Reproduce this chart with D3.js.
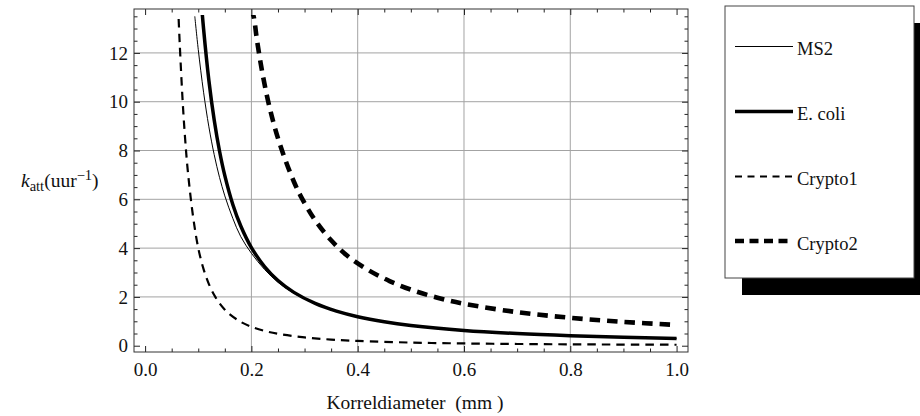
<!DOCTYPE html>
<html>
<head>
<meta charset="utf-8">
<script src="https://cdn.jsdelivr.net/npm/d3@7"></script>
<style>
  body { margin: 0; background: #fff; }
  svg { display: block; }
  text { font-family: "Liberation Serif", "Times New Roman", serif; fill: #111; }
</style>
</head>
<body>
<svg id="chart" width="920" height="416"></svg>
<script>
// ---- data ----
const ms2D   = [0.0935, 0.1, 0.11, 0.12, 0.13, 0.14, 0.15, 0.165, 0.18, 0.2, 0.225, 0.25, 0.28, 0.32, 0.36, 0.4, 0.45, 0.5, 0.6, 0.7, 0.8, 0.9, 1.0];
const ms2K   = [13.5, 12.14, 10.39, 8.97, 7.83, 6.90, 6.14, 5.22, 4.47, 3.79, 3.12, 2.60, 2.15, 1.715, 1.405, 1.18, 0.975, 0.823, 0.62, 0.492, 0.405, 0.343, 0.297];
const ecoliD = [0.105, 0.11, 0.12, 0.13, 0.14, 0.15, 0.165, 0.18, 0.2, 0.225, 0.25, 0.28, 0.32, 0.36, 0.4, 0.45, 0.5, 0.6, 0.7, 0.8, 0.9, 1.0];
const ecoliK = [14.29, 12.99, 10.87, 9.25, 7.98, 6.97, 5.79, 4.905, 4.02, 3.236, 2.674, 2.186, 1.733, 1.418, 1.19, 0.982, 0.83, 0.626, 0.497, 0.4095, 0.347, 0.30];
const crypto1D = [0.062, 0.065, 0.0707, 0.075, 0.08, 0.09, 0.1, 0.11, 0.12, 0.13, 0.14, 0.15, 0.16, 0.18, 0.2, 0.225, 0.25, 0.3, 0.35, 0.4, 0.5, 0.6, 0.7, 0.8, 0.9, 1.0];
const crypto1K = [13.98, 12.44, 10, 8.57, 7.24, 5.33, 4.0, 3.14, 2.526, 2.076, 1.738, 1.478, 1.274, 0.977, 0.775, 0.605, 0.4875, 0.3385, 0.2506, 0.1945, 0.1287, 0.0927, 0.0708, 0.0564, 0.0464, 0.0392];
const crypto2D = [0.2, 0.205, 0.21, 0.22, 0.2317, 0.245, 0.26, 0.28, 0.2946, 0.32, 0.35, 0.38, 0.42, 0.46, 0.5, 0.55, 0.6, 0.7, 0.8, 0.9, 1.0];
const crypto2K = [13.82, 13.41, 12.6, 11.26, 10, 8.87, 7.85, 6.72, 6.06, 5.14, 4.32, 3.695, 3.10, 2.65, 2.30, 1.968, 1.719, 1.375, 1.144, 0.976, 0.849];

const seriesNames = ["MS2", "E. coli", "Crypto1", "Crypto2"];
const xMajor = [0, 0.2, 0.4, 0.6, 0.8, 1.0];
const yMajor = [0, 2, 4, 6, 8, 10, 12];
const xGrid = [0.2, 0.4, 0.6, 0.8];
const yGrid = [2, 4, 6, 8, 10, 12];
const yClipTop = 13.55;

// ---- styles ----
const styles = [
  { w: 1.0, dash: null,   legDash: null },
  { w: 3.5, dash: null,   legDash: null },
  { w: 2.2, dash: "8.5,6",  legDash: "7,5.5" },
  { w: 4.6, dash: "10.5,7", legDash: "9,5.5" }
];
const seriesData = [
  ms2D.map((d, i) => [d, ms2K[i]]),
  ecoliD.map((d, i) => [d, ecoliK[i]]),
  crypto1D.map((d, i) => [d, crypto1K[i]]),
  crypto2D.map((d, i) => [d, crypto2K[i]])
];

const svg = d3.select("#chart");
const L = 134, R = 688, T = 9, B = 352;

const x = d3.scaleLinear().domain([-0.0209, 1.0215]).range([L, R]);
const y = d3.scaleLinear().domain([-0.258, 13.8]).range([B, T]);

// grid
svg.append("g").selectAll("line").data(xGrid).join("line")
  .attr("x1", d => x(d)).attr("x2", d => x(d)).attr("y1", T).attr("y2", B)
  .attr("stroke", "#a3a3a3").attr("stroke-width", 1);
svg.append("g").selectAll("line").data(yGrid).join("line")
  .attr("x1", L).attr("x2", R).attr("y1", d => y(d)).attr("y2", d => y(d))
  .attr("stroke", "#a3a3a3").attr("stroke-width", 1);

// axes (ticks inward)
const xMinor = d3.range(0, 21).map(i => i * 0.05).filter((v, i) => i % 4 !== 0);
const yMinor = d3.range(0, 28).map(i => i * 0.5).filter(v => v % 2 !== 0);
const fmtX = d3.format(".1f");

function styleAxis(g) {
  g.select(".domain").remove();
  g.selectAll("line").attr("stroke", "#222");
  g.selectAll("text").attr("font-size", 19).attr("fill", "#1a1a1a");
}
svg.append("g").attr("transform", `translate(0,${B})`)
  .call(d3.axisBottom(x).tickValues(xMajor).tickFormat(fmtX).tickSize(-6).tickPadding(11)).call(styleAxis);
svg.append("g").attr("transform", `translate(0,${B})`)
  .call(d3.axisBottom(x).tickValues(xMinor).tickFormat("").tickSize(-3.5)).call(styleAxis);
svg.append("g").attr("transform", `translate(0,${T})`)
  .call(d3.axisTop(x).tickValues(xMajor).tickFormat("").tickSize(-6)).call(styleAxis);
svg.append("g").attr("transform", `translate(0,${T})`)
  .call(d3.axisTop(x).tickValues(xMinor).tickFormat("").tickSize(-3.5)).call(styleAxis);
svg.append("g").attr("transform", `translate(${L},0)`)
  .call(d3.axisLeft(y).tickValues(yMajor).tickFormat(d3.format("d")).tickSize(-6).tickPadding(6)).call(styleAxis);
svg.append("g").attr("transform", `translate(${L},0)`)
  .call(d3.axisLeft(y).tickValues(yMinor).tickFormat("").tickSize(-3.5)).call(styleAxis);
svg.append("g").attr("transform", `translate(${R},0)`)
  .call(d3.axisRight(y).tickValues(yMajor).tickFormat("").tickSize(-6)).call(styleAxis);
svg.append("g").attr("transform", `translate(${R},0)`)
  .call(d3.axisRight(y).tickValues(yMinor).tickFormat("").tickSize(-3.5)).call(styleAxis);

// frame
svg.append("rect").attr("x", L).attr("y", T).attr("width", R - L).attr("height", B - T)
  .attr("fill", "none").attr("stroke", "#333").attr("stroke-width", 1);

// clip (curves stop at the plot range top)
svg.append("clipPath").attr("id", "plotclip").append("rect")
  .attr("x", L).attr("y", y(yClipTop)).attr("width", R - L).attr("height", B - y(yClipTop));

const line = d3.line().x(d => x(d[0])).y(d => y(d[1])).curve(d3.curveCatmullRom.alpha(0.5));
svg.append("g").attr("clip-path", "url(#plotclip)")
  .selectAll("path").data(seriesData).join("path")
  .attr("d", d => line(d))
  .attr("fill", "none").attr("stroke", "#000")
  .attr("stroke-width", (d, i) => styles[i].w)
  .attr("stroke-dasharray", (d, i) => styles[i].dash);

// axis labels
svg.append("text").attr("x", 415).attr("y", 409).attr("text-anchor", "middle")
  .attr("font-size", 19.5).style("white-space", "pre").text("Korreldiameter  (mm )");

const yl = svg.append("text").attr("x", 21).attr("y", 187).attr("font-size", 19.5);
yl.append("tspan").attr("font-style", "italic").text("k");
yl.append("tspan").attr("font-size", 14.5).attr("dy", 4).text("att");
yl.append("tspan").attr("dy", -4).text("(uur");
yl.append("tspan").attr("font-size", 14.5).attr("dy", -7).text("\u22121");
yl.append("tspan").attr("dy", 7).text(")");

// legend
const LX = 725, LY = 6, LW = 189, LH = 272;
svg.append("rect").attr("x", LX + 17).attr("y", LY + 17).attr("width", LW).attr("height", LH).attr("fill", "#000");
svg.append("rect").attr("x", LX).attr("y", LY).attr("width", LW).attr("height", LH)
  .attr("fill", "#fff").attr("stroke", "#444").attr("stroke-width", 1);
const legY = [46.5, 111.5, 176.5, 241];
const lg = svg.append("g").selectAll("g").data(seriesNames).join("g")
  .attr("transform", (d, i) => `translate(0,${legY[i]})`);
lg.append("line").attr("x1", 735).attr("x2", 793).attr("y1", 0).attr("y2", 0)
  .attr("stroke", "#000")
  .attr("stroke-width", (d, i) => styles[i].w)
  .attr("stroke-dasharray", (d, i) => styles[i].legDash);
lg.append("text").attr("x", 797).attr("y", 8.5).attr("font-size", 18.5).text(d => d);
</script>
</body>
</html>
